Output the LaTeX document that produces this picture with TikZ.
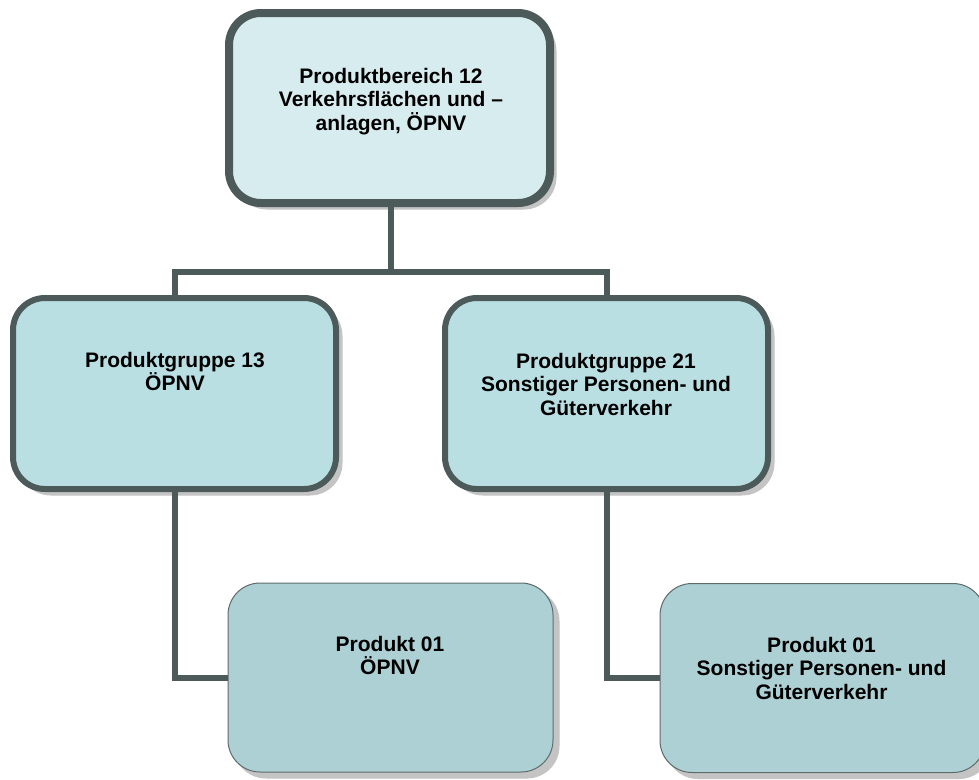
\documentclass[tikz,border=0pt]{standalone}
\usepackage{fontspec}
\setmainfont{Liberation Sans}
\definecolor{bordc}{HTML}{4D5A5A}
\definecolor{fillA}{HTML}{D7ECEF}
\definecolor{fillB}{HTML}{B9DFE3}
\definecolor{fillC}{HTML}{ACD0D3}
\definecolor{shadc}{HTML}{C4C4C4}
\definecolor{thinb}{HTML}{5E6B6B}
\begin{document}
\begin{tikzpicture}[x=1pt,y=-1pt,
  shadowed/.style={preaction={fill=shadc,draw=shadc,line width=1pt,transform canvas={shift={(6pt,-6pt)}}}},
  boxbase/.style={shape=rectangle,rounded corners=32pt,inner sep=0pt,shadowed},
  topbox/.style={boxbase,draw=bordc,line width=8pt,fill=fillA,minimum width=321pt,minimum height=190pt},
  midbox/.style={boxbase,draw=bordc,line width=6pt,fill=fillB,minimum width=323pt,minimum height=191pt},
  lowbox/.style={boxbase,draw=thinb,line width=1pt,fill=fillC,minimum width=325pt,minimum height=189pt},
  lbl/.style={anchor=north,inner sep=0pt,align=center,font=\bfseries\fontsize{21}{23.5}\selectfont},
  conn/.style={draw=bordc,line width=6pt}]
\useasboundingbox (0,0) rectangle (979,779);
% boxes
\node[topbox] (top) at (389.5,108) {};
\node[midbox] (g1) at (174.5,393.5) {};
\node[midbox] (g2) at (606.5,393.5) {};
\node[lowbox] (b1) at (390.5,677.5) {};
\node[lowbox] (b2) at (822.5,678) {};
% connectors
\coordinate (jy) at (0,272);
\draw[conn] (top.south -| 391,0) -- (391,0 |- jy);
\draw[conn] (g1.north) -- (g1.north |- jy) -- (g2.north |- jy) -- (g2.north);
\draw[conn] (g1.south) |- (b1.west);
\draw[conn] (g2.south) |- (b2.west);
% texts
\node[lbl] (t0) at (391,68) {Produktbereich 12\\Verkehrsflächen und –\\anlagen, ÖPNV};
\node[lbl] (t1) at (175,352) {Produktgruppe 13\\ÖPNV};
\node[lbl] (t2) at (606,353) {Produktgruppe 21\\Sonstiger Personen- und\\Güterverkehr};
\node[lbl] (t3) at (390,636) {Produkt 01\\ÖPNV};
\node[lbl] (t4) at (821.5,637) {Produkt 01\\Sonstiger Personen- und\\Güterverkehr};
\end{tikzpicture}
\end{document}
